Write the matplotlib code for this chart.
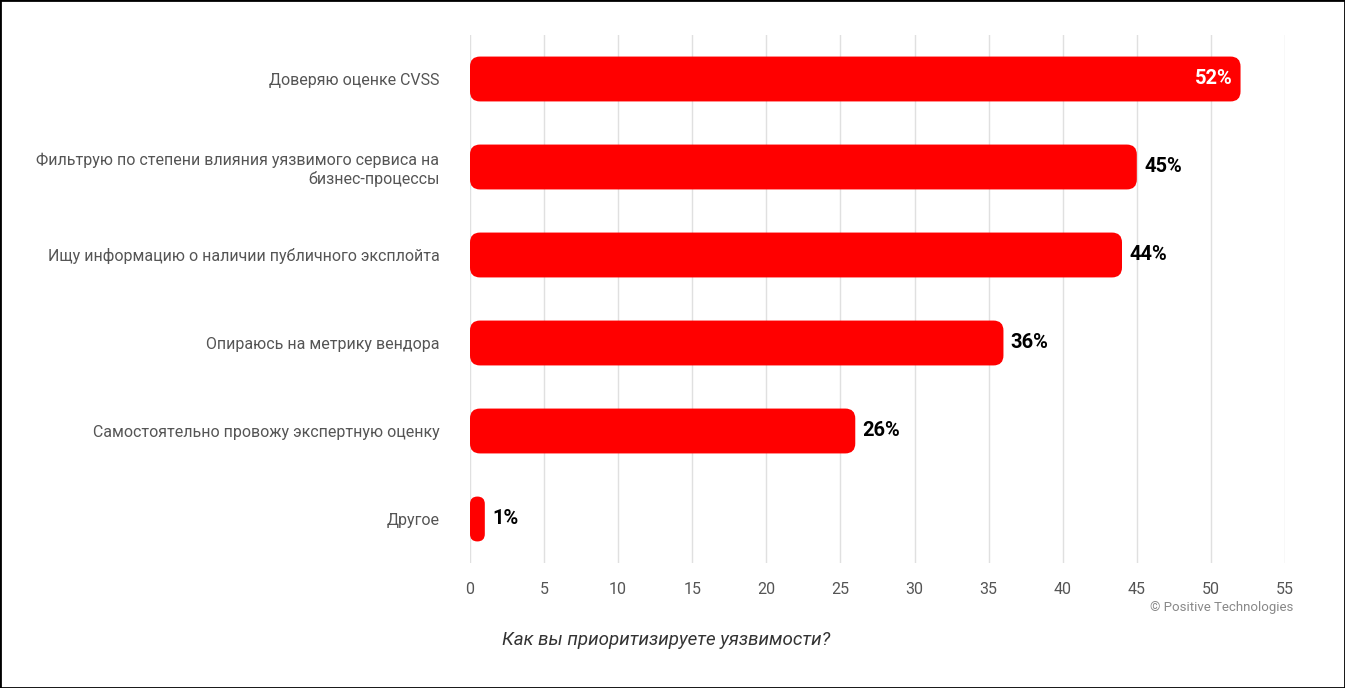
import matplotlib.pyplot as plt
from matplotlib.patches import FancyBboxPatch, Rectangle

plt.rcParams["font.family"] = "Roboto"

categories = [
    "Доверяю оценке CVSS",
    "Фильтрую по степени влияния уязвимого сервиса на\nбизнес-процессы",
    "Ищу информацию о наличии публичного эксплойта",
    "Опираюсь на метрику вендора",
    "Самостоятельно провожу экспертную оценку",
    "Другое",
]
values = [52, 45, 44, 36, 26, 1]
ticks = [0, 5, 10, 15, 20, 25, 30, 35, 40, 45, 50, 55]

fig = plt.figure(figsize=(13.45, 6.88), dpi=100)
fig.patches.append(Rectangle((0, 0), 1, 1, transform=fig.transFigure, fill=False,
                             edgecolor="black", linewidth=2))
ax = fig.add_axes([470 / 1345, 1 - 563 / 688, 815 / 1345, 528 / 688])
ax.set_xlim(0, 55)
ax.set_ylim(len(values) - 0.5, -0.5)

xpx = 815 / 55
ypx = 88
bar_h = 0.51
radius_px = 10
for i, v in enumerate(values):
    r = min(radius_px / xpx, v / 2)
    p = FancyBboxPatch((0, i - bar_h / 2), v, bar_h,
                       boxstyle=f"round,pad=0,rounding_size={r}",
                       mutation_aspect=xpx / ypx, facecolor="#ff0000",
                       edgecolor="none", zorder=3)
    ax.add_patch(p)
    if i == 0:
        ax.text(v - 0.5, i, f"{v}%", ha="right", va="center", color="white",
                fontsize=14.5, fontweight="bold", zorder=4)
    else:
        ax.text(v + 0.5, i, f"{v}%", ha="left", va="center", color="black",
                fontsize=14.5, fontweight="bold", zorder=4)

ax.set_yticks(range(len(categories)))
ax.set_yticklabels(categories, fontsize=11.5, color="#555555", ha="right")
ax.set_xticks(ticks)
ax.set_xticklabels([str(t) for t in ticks], fontsize=11.5, color="#555555")
ax.tick_params(axis="both", length=0)
ax.tick_params(axis="y", pad=22)
ax.tick_params(axis="x", pad=14)
ax.grid(axis="x", color="#e0e0e0", linewidth=1, zorder=0)
for s in ax.spines.values():
    s.set_visible(False)

fig.text(1293 / 1345, 1 - 608 / 688, "© Positive Technologies", ha="right",
         va="center", fontsize=9.5, color="#888888")
fig.text(666 / 1345, 1 - 640 / 688, "Как вы приоритизируете уязвимости?",
         ha="center", va="center", fontsize=13.5, style="italic", color="#333333")

fig.savefig("out.png", dpi=100)
